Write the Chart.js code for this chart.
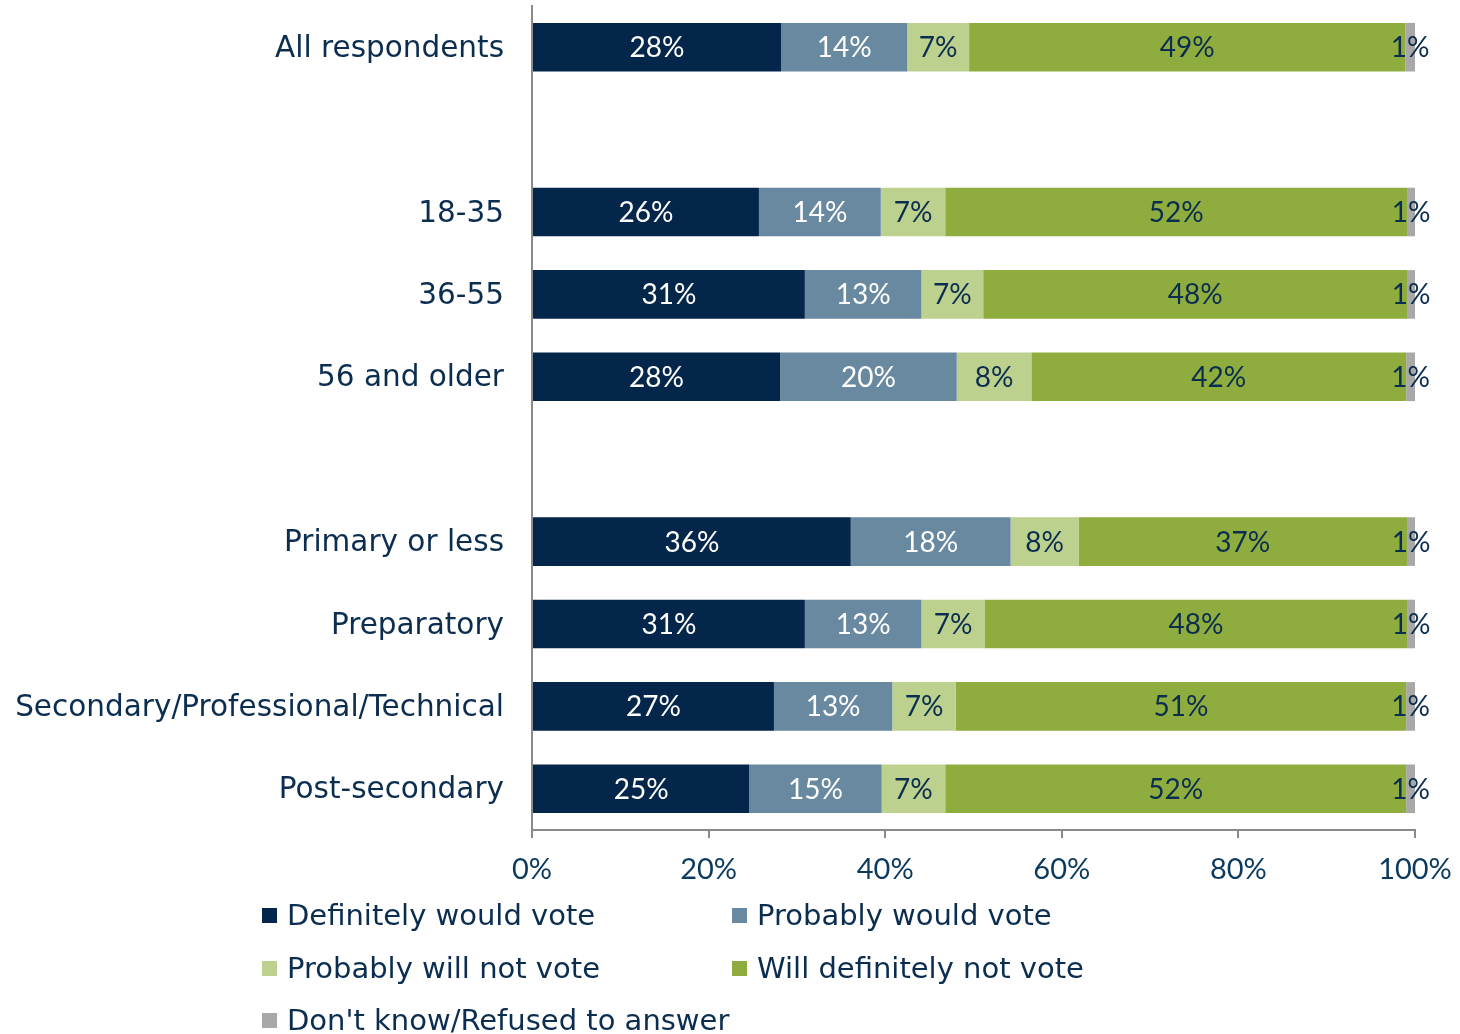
<!DOCTYPE html>
<html>
<head>
<meta charset="utf-8">
<script src="https://cdn.jsdelivr.net/npm/chart.js@4.4.1/dist/chart.umd.min.js"></script>
<style>
  html, body { margin: 0; padding: 0; background: #fff; }
  #wrap { width: 1460px; height: 1034px; position: relative; }
</style>
</head>
<body>
<div id="wrap"><canvas id="voteChart" width="1460" height="1034"></canvas></div>
<script>
// Categories (empty strings are spacer rows)
const categories = ['All respondents', '', '18-35', '36-55', '56 and older', '',
    'Primary or less', 'Preparatory', 'Secondary/Professional/Technical', 'Post-secondary'];

const seriesNames = ['Definitely would vote', 'Probably would vote', 'Probably will not vote',
    'Will definitely not vote', "Don't know/Refused to answer"];

// Values (percent)
const definitelyVote    = [28.2, null, 25.7, 30.9, 28.1, null, 36.1, 30.9, 27.4, 24.6];
const probablyVote      = [14.3, null, 13.8, 13.2, 20.0, null, 18.1, 13.2, 13.4, 15.0];
const probablyNotVote   = [7.0,  null, 7.3,  7.0,  8.45, null, 7.7,  7.2,  7.2,  7.2];
const definitelyNotVote = [49.4, null, 52.3, 48.0, 42.45, null, 37.2, 47.8, 51.0, 52.2];
const dontKnow          = [1.1,  null, 0.9,  0.9,  1.0,  null, 0.9,  0.9,  1.0,  1.0];

const xTicks = [0, 20, 40, 60, 80, 100];

const colors = ['#03264a', '#6889a0', '#bdd18f', '#8fac3e', '#a8a8a8'];
const labelColors = ['#ffffff', '#ffffff', '#0b2d4f', '#0b2d4f', '#0b2d4f'];
const textColor = '#0b2d4f';
const axisColor = '#8a8a8a';

const allSeries = [definitelyVote, probablyVote, probablyNotVote, definitelyNotVote, dontKnow];

// Data labels drawn in the middle of each segment
const segmentLabels = {
    id: 'segmentLabels',
    afterDatasetsDraw(chart) {
        const ctx = chart.ctx;
        ctx.save();
        ctx.font = '28px Lato';
        ctx.textAlign = 'center';
        ctx.textBaseline = 'middle';
        chart.data.datasets.forEach((ds, i) => {
            const meta = chart.getDatasetMeta(i);
            meta.data.forEach((bar, j) => {
                const v = ds.data[j];
                if (v === null || v === undefined) return;
                const p = bar.getProps(['x', 'base', 'y'], true);
                ctx.fillStyle = labelColors[i];
                ctx.fillText(Math.round(v) + '%', (p.x + p.base) / 2, p.y + 1);
            });
        });
        ctx.restore();
    }
};

// Legend in two columns below the axis
const bottomLegend = {
    id: 'bottomLegend',
    afterDraw(chart) {
        const ctx = chart.ctx;
        const cols = [262, 732];
        const rows = [916, 969, 1021];
        ctx.save();
        ctx.font = '29px "DejaVu Sans"';
        ctx.textBaseline = 'middle';
        ctx.textAlign = 'left';
        seriesNames.forEach((name, i) => {
            const x = cols[i % 2];
            const y = rows[Math.floor(i / 2)];
            ctx.fillStyle = colors[i];
            ctx.fillRect(x, y - 8, 15, 15);
            ctx.fillStyle = textColor;
            ctx.fillText(name, x + 25, y + 1);
        });
        ctx.restore();
    }
};

const ctx = document.getElementById('voteChart').getContext('2d');
const voteChart = new Chart(ctx, {
    type: 'bar',
    data: {
        labels: categories,
        datasets: seriesNames.map((name, i) => ({
            label: name,
            data: allSeries[i],
            backgroundColor: colors[i],
            borderWidth: 0,
            categoryPercentage: 1,
            barPercentage: 0.59
        }))
    },
    options: {
        indexAxis: 'y',
        responsive: false,
        animation: false,
        layout: { padding: { left: 0, right: 45, top: 6, bottom: 144 } },
        plugins: {
            legend: { display: false },
            tooltip: { enabled: false }
        },
        scales: {
            x: {
                stacked: true,
                min: 0,
                max: 100,
                afterBuildTicks: scale => { scale.ticks = xTicks.map(v => ({ value: v })); },
                afterFit: scale => {
                    scale.height = 60;
                    scale.paddingLeft = 0;
                    scale.paddingRight = 0;
                },
                grid: { drawOnChartArea: false, drawTicks: true, tickLength: 8, color: axisColor, lineWidth: 2 },
                border: { display: true, color: axisColor, width: 2 },
                ticks: {
                    color: '#0b3a5e',
                    font: { family: 'Lato', size: 29 },
                    padding: 14,
                    callback: v => v + '%'
                }
            },
            y: {
                stacked: true,
                afterFit: scale => {
                    scale.width = 532;
                    scale.paddingTop = 0;
                    scale.paddingBottom = 0;
                },
                grid: { display: false },
                border: { display: true, color: axisColor, width: 2 },
                ticks: {
                    color: textColor,
                    font: { family: '"DejaVu Sans"', size: 29.5 },
                    padding: 20,
                    labelOffset: 2
                }
            }
        }
    },
    plugins: [segmentLabels, bottomLegend]
});
</script>
</body>
</html>
